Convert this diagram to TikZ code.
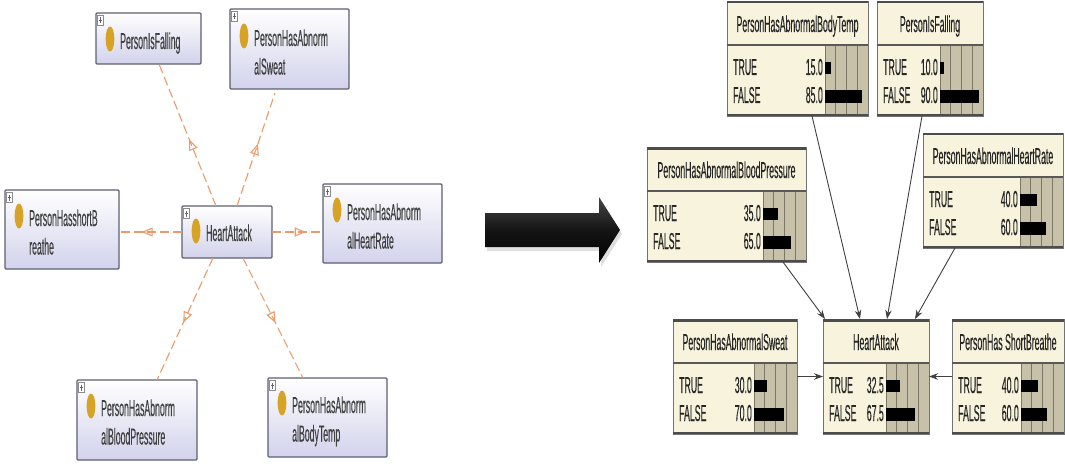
\documentclass[tikz,border=0pt]{standalone}
\usepackage{fontspec}
\newfontfamily\cf[FakeStretch=0.38,FakeBold=0.3]{Liberation Sans}
\usetikzlibrary{arrows.meta,decorations.markings,shadows,calc}
\definecolor{orng}{RGB}{234,155,105}
\definecolor{lav}{RGB}{210,210,236}
\definecolor{lborder}{RGB}{95,95,115}
\definecolor{gold}{RGB}{215,163,38}
\definecolor{cream}{RGB}{248,243,220}
\definecolor{barbg}{RGB}{200,193,170}
\definecolor{gridc}{RGB}{125,118,100}

\tikzset{
  obox/.style={draw=lborder, line width=1.2pt, rounded corners=1pt, top color=white, bottom color=lav, anchor=north west, inner sep=0pt, outer sep=0pt},
  pbox/.style={draw=black!45, fill=white, line width=0.5pt},
  lt/.style={font=\cf\fontsize{23}{27}\selectfont, text=black!75, inner sep=0pt, anchor=base west},
  lconn/.style={draw=orng, line width=1.1pt, dash pattern=on 9pt off 4pt, postaction={decorate},
    decoration={markings, mark=at position #1 with {\arrow[orng, solid, line width=1.1pt]{Triangle[open,length=11pt,width=9pt]}}}},
  lconn/.default=0.55,
  bbox/.style={draw=black!55, line width=0.8pt, fill=cream, anchor=north west, inner sep=0pt, outer sep=0pt},
  btext/.style={font=\cf\fontsize{23}{26}\selectfont, text=black!85, inner sep=0pt},
  gridl/.style={draw=gridc, line width=0.6pt},
  barrow/.style={draw=black!75, line width=0.9pt, -{Stealth[length=9pt,width=6.5pt]}}
}

% left ontology box: name, x, y, w, h, line1, line2, circle y offset
\newcommand\obox[8]{%
  \node[obox, minimum width=#4, minimum height=#5] (#1) at (#2,#3) {};
  \draw[pbox] ({#2+1.5},{#3+2.5}) rectangle ({#2+7.5},{#3+12.5});
  \draw[black!60, line width=0.5pt] ({#2+2.8},{#3+7.5}) -- ({#2+6.2},{#3+7.5}) ({#2+4.5},{#3+4.5}) -- ({#2+4.5},{#3+10.5});
  \fill[gold] ({#2+14},{#3+#8}) ellipse [x radius=4.4, y radius=12.5];
  \node[lt] at ({#2+24},{#3+#8+10}) {#6};
  \node[lt] at ({#2+24},{#3+#8+38.5}) {#7};
}

% right bayes node: name, x, y, w, title, true, false
\newcommand\bnode[7]{%
  \node[bbox, minimum width=#4, minimum height=115] (#1) at (#2,#3) {};
  \fill[barbg] ({#2+#4-43},{#3+45}) rectangle ({#2+#4-0.5},{#3+113});
  \foreach \k in {0,1,2,3} \draw[gridl] ({#2+#4-43+\k*10.75},{#3+45}) -- ({#2+#4-43+\k*10.75},{#3+113});
  \fill[black] ({#2+#4-43},{#3+61}) rectangle ({#2+#4-43+#6*0.43},{#3+73});
  \fill[black] ({#2+#4-43},{#3+89}) rectangle ({#2+#4-43+#7*0.43},{#3+102});
  \draw[black!65, line width=1.4pt] ({#2},{#3+44}) -- ({#2+#4},{#3+44});
  \draw[black!70, line width=2.6pt] ({#2},{#3+1.2}) -- ({#2+#4},{#3+1.2});
  \draw[black!70, line width=2.2pt] ({#2},{#3+114}) -- ({#2+#4},{#3+114});
  \node[btext, anchor=base] at ({#2+#4/2},{#3+31}) {#5};
  \node[btext, anchor=base west] at ({#2+6},{#3+74}) {TRUE};
  \node[btext, anchor=base west] at ({#2+6},{#3+102}) {FALSE};
  \node[btext, anchor=base east] at ({#2+#4-45},{#3+74}) {#6};
  \node[btext, anchor=base east] at ({#2+#4-45},{#3+102}) {#7};
}

\begin{document}
\begin{tikzpicture}[x=1pt,y=-1pt]
\useasboundingbox (0,0) rectangle (1065,468);
\fill[white] (0,0) rectangle (1065,468);

% ---------- left ontology diagram ----------
\obox{lpf}{96}{13}{105}{51}{PersonIsFalling}{}{26}
\obox{lsw}{230}{9}{119}{80}{PersonHasAbnorm}{alSweat}{27}
\obox{lsb}{5}{190}{114}{79}{PersonHasshortB}{reathe}{26}
\obox{lha}{182}{206}{90}{52}{HeartAttack}{}{25}
\obox{lhr}{323}{184}{119}{79}{PersonHasAbnorm}{alHeartRate}{26}
\obox{lbp}{77}{380}{120}{80}{PersonHasAbnorm}{alBloodPressure}{26}
\obox{lbt}{268}{378}{119}{79}{PersonHasAbnorm}{alBodyTemp}{25}

\draw[lconn=0.47] ($(lha.north west)+(34,0)$) -- ($(lpf.south west)+(63,0)$);
\draw[lconn=0.55] ($(lha.north west)+(55,0)$) -- ($(lsw.south west)+(45,4)$);
\draw[lconn=0.64] (lha.west) -- (lsb.east |- lha.west);
\draw[lconn=0.66] (lha.east) -- (lhr.west |- lha.east);
\draw[lconn=0.53] ($(lha.south west)+(31,0)$) -- ($(lbp.north west)+(80,0)$);
\draw[lconn=0.54] ($(lha.south west)+(61,0)$) -- ($(lbt.north west)+(35,0)$);

% ---------- big arrow ----------
\shade[top color=gray!55!black, bottom color=black, middle color=black!92,
  drop shadow={shadow xshift=2pt, shadow yshift=-4pt, opacity=0.25}]
  (485,213) -- (599,213) -- (599,197) -- (620,230) -- (599,263) -- (599,247) -- (485,247) -- cycle;

% ---------- right bayes network ----------
\bnode{bt}{727}{1}{141}{PersonHasAbnormalBodyTemp}{15.0}{85.0}
\bnode{pf}{877}{1}{106}{PersonIsFalling}{10.0}{90.0}
\bnode{bp}{647}{147}{159}{PersonHasAbnormalBloodPressure}{35.0}{65.0}
\bnode{hr}{923}{133}{140}{PersonHasAbnormalHeartRate}{40.0}{60.0}
\bnode{sw}{673}{319}{124}{PersonHasAbnormalSweat}{30.0}{70.0}
\bnode{ha}{823}{319}{106}{HeartAttack}{32.5}{67.5}
\bnode{sb}{952}{319}{112}{PersonHas ShortBreathe}{40.0}{60.0}

\draw[barrow] ($(bt.south west)+(85,0)$) -- ($(ha.north west)+(37,0)$);
\draw[barrow] ($(pf.south west)+(45,0)$) -- ($(ha.north west)+(64,0)$);
\draw[barrow] ($(bp.south west)+(136,0)$) -- ($(ha.north west)+(2,0)$);
\draw[barrow] ($(hr.south west)+(32,0)$) -- ($(ha.north west)+(92,0)$);
\draw[barrow] (sw.east) -- (ha.west);
\draw[barrow] (sb.west) -- (ha.east);
\end{tikzpicture}
\end{document}
